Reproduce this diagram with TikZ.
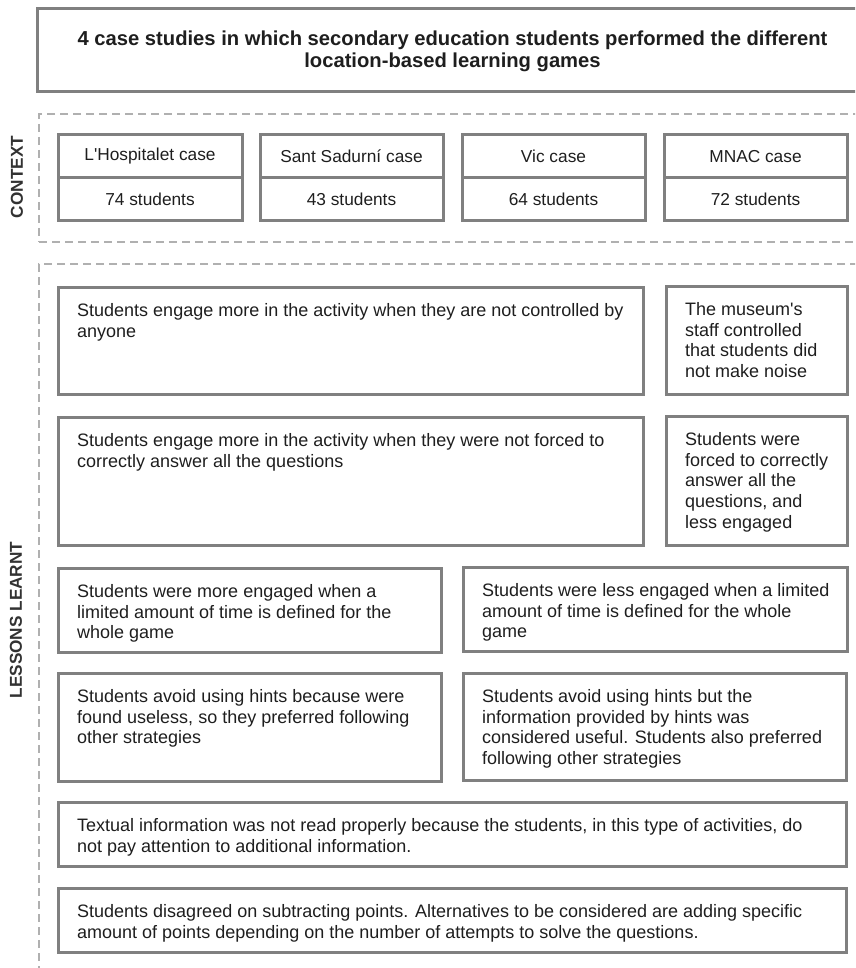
\documentclass[tikz,border=0pt]{standalone}
\usepackage{fontspec}
\setmainfont{Liberation Sans}
\definecolor{boxgray}{RGB}{128,128,128}
\definecolor{dashgray}{RGB}{176,176,176}
\definecolor{ink}{RGB}{30,30,30}
\definecolor{labelink}{RGB}{50,50,50}
\begin{document}
\begin{tikzpicture}[x=1pt,y=-1pt,
  frame/.style={draw=boxgray, line width=3pt, rectangle, inner sep=0pt, outer sep=0pt},
  zone/.style={draw=dashgray, line width=1.4pt, dash pattern=on 8pt off 5pt, rectangle, inner sep=0pt},
  body/.style={anchor=north west, inner sep=0pt, align=left, text=ink,
    font=\fontsize{18}{20.8}\selectfont},
  celltext/.style={inner sep=0pt, text=ink, font=\fontsize{17.3}{20}\selectfont},
  sidelabel/.style={rotate=90, inner sep=0pt, text=labelink,
    font=\bfseries\fontsize{17.2}{20}\selectfont},
  titletext/.style={inner sep=0pt, align=center, text=ink,
    font=\bfseries\fontsize{20.2}{22}\selectfont}]
\useasboundingbox (0,0) rectangle (855,968);
\clip (0,0) rectangle (855,968);

% heading
\node[frame, minimum width=831pt, minimum height=83pt] (title) at (452.5,50.5) {};
\node[titletext] (titlet) at (452.5,51) {4 case studies in which secondary education students performed the different\\location-based learning games};

% dashed section frames
\node[zone, minimum width=841pt, minimum height=128pt] (ctxzone) at (459.5,178) {};
\node[zone, minimum width=841pt, minimum height=736pt] (lessonzone) at (459.5,632) {};

\node[sidelabel] (ctxlabel) at (17,177) {CONTEXT};
\node[sidelabel] (lessonlabel) at (16,620) {LESSONS LEARNT};

% case cells
\foreach \name/\cx/\w/\case/\num in {
    hosp/150/184/{L\textquotesingle Hospitalet case}/{74 students},
    sadu/351.5/183/{Sant Sadurní case}/{43 students},
    vic/553.5/183/{Vic case}/{64 students},
    mnac/755.5/183/{MNAC case}/{72 students}}{
  \node[frame, minimum width=\w pt, minimum height=43pt] (\name-a) at (\cx,156.5) {};
  \node[frame, minimum width=\w pt, minimum height=43pt] (\name-b) at (\cx,199.5) {};
  \node[celltext] (\name-at) at (\name-a) {\case};
  \node[celltext] (\name-bt) at (\name-b) {\num};
}

% lessons learnt boxes
\node[frame, minimum width=585pt, minimum height=107pt] (b1) at (350.5,340.5) {};
\node[frame, minimum width=181pt, minimum height=108pt] (r1) at (756.5,340) {};
\node[frame, minimum width=585pt, minimum height=128pt] (b2) at (350.5,481) {};
\node[frame, minimum width=181pt, minimum height=129pt] (r2) at (756.5,480.5) {};
\node[frame, minimum width=383pt, minimum height=84pt] (b3) at (249.5,610) {};
\node[frame, minimum width=384pt, minimum height=84pt] (r3) at (655,609) {};
\node[frame, minimum width=383pt, minimum height=108pt] (b4) at (249.5,727) {};
\node[frame, minimum width=383pt, minimum height=107pt] (r4) at (654.5,726.5) {};
\node[frame, minimum width=788pt, minimum height=64pt] (b5) at (452,834) {};
\node[frame, minimum width=788pt, minimum height=64pt] (b6) at (452,920) {};

\node[body] (b1t) at ([xshift=19pt,yshift=-16pt]b1.north west)
  {Students engage more in the activity when they are not controlled by\\anyone};
\node[body] (r1t) at ([xshift=19pt,yshift=-16pt]r1.north west)
  {The museum\textquotesingle s\\staff controlled\\that students did\\not make noise};
\node[body] (b2t) at ([xshift=19pt,yshift=-16pt]b2.north west)
  {Students engage more in the activity when they were not forced to\\correctly answer all the questions};
\node[body] (r2t) at ([xshift=19pt,yshift=-16pt]r2.north west)
  {Students were\\forced to correctly\\answer all the\\questions, and\\less engaged};
\node[body] (b3t) at ([xshift=19pt,yshift=-16pt]b3.north west)
  {Students were more engaged when a\\limited amount of time is defined for the\\whole game};
\node[body] (r3t) at ([xshift=19pt,yshift=-16pt]r3.north west)
  {Students were less engaged when a limited\\amount of time is defined for the whole\\game};
\node[body] (b4t) at ([xshift=19pt,yshift=-16pt]b4.north west)
  {Students avoid using hints because were\\found useless, so they preferred following\\other strategies};
\node[body] (r4t) at ([xshift=19pt,yshift=-16pt]r4.north west)
  {Students avoid using hints but the\\information provided by hints was\\considered useful. Students also preferred\\following other strategies};
\node[body] (b5t) at ([xshift=19pt,yshift=-16pt]b5.north west)
  {Textual information was not read properly because the students, in this type of activities, do\\not pay attention to additional information.};
\node[body] (b6t) at ([xshift=19pt,yshift=-16pt]b6.north west)
  {Students disagreed on subtracting points. Alternatives to be considered are adding specific\\amount of points depending on the number of attempts to solve the questions.};
\end{tikzpicture}
\end{document}
